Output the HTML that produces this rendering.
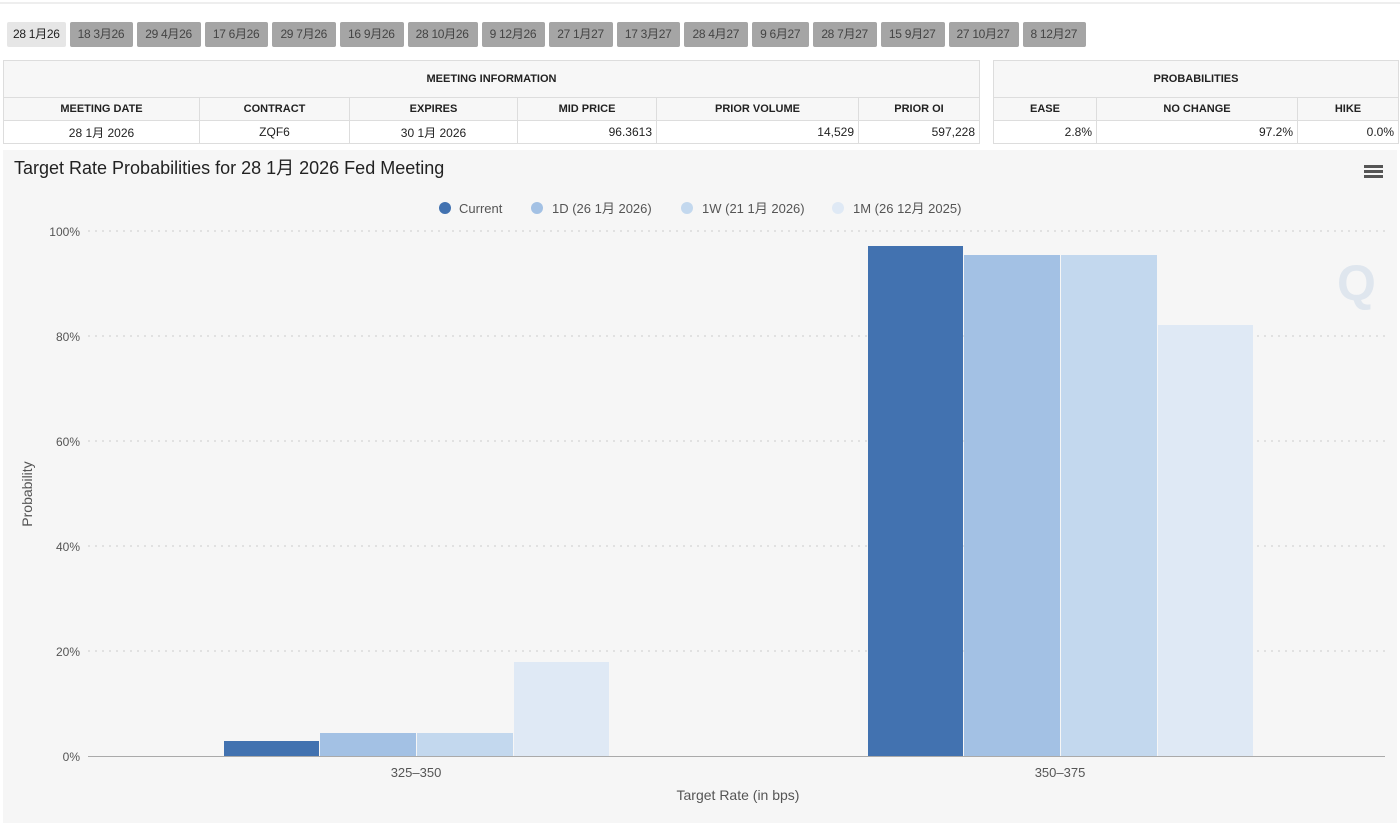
<!DOCTYPE html>
<html><head><meta charset="utf-8"><style>
body{margin:0;width:1400px;height:823px;background:#fff;font-family:"Liberation Sans","Noto Sans CJK SC",sans-serif;position:relative;overflow:hidden}
.topline{position:absolute;left:0;top:2px;width:1400px;height:2px;background:#eee}
.tabs{position:absolute;top:22px;left:7px;display:flex;gap:4px}
.tab{height:25px;line-height:25px;padding:0 9px 0 8px;background:#a5a5a5;color:#444;font-size:12px;border-radius:2px;letter-spacing:-0.3px}
.tab.a{background:#e6e6e6;color:#222;padding:0 6px}
table{position:absolute;border-collapse:collapse;font-size:12px;color:#222}
td{border:1px solid #ddd;height:22px;padding:0 4px}
.h td{font-weight:bold;font-size:11px;text-align:center;background:#f7f7f7}
.r{text-align:right}.c{text-align:center}
.chart{position:absolute;left:3px;top:150px;width:1394px;height:673px;background:#f6f6f6}
</style></head><body>
<div class="topline"></div>
<div class="tabs">
<div class="tab a">28 1月26</div><div class="tab">18 3月26</div><div class="tab">29 4月26</div><div class="tab">17 6月26</div><div class="tab">29 7月26</div><div class="tab">16 9月26</div><div class="tab">28 10月26</div><div class="tab">9 12月26</div><div class="tab">27 1月27</div><div class="tab">17 3月27</div><div class="tab">28 4月27</div><div class="tab">9 6月27</div><div class="tab">28 7月27</div><div class="tab">15 9月27</div><div class="tab">27 10月27</div><div class="tab">8 12月27</div>
</div>
<table style="left:3px;top:60px;width:977px">
<tr class="h"><td colspan="6" style="height:36px;background:#f7f7f7">MEETING INFORMATION</td></tr>
<tr class="h"><td style="width:187px">MEETING DATE</td><td style="width:141px">CONTRACT</td><td style="width:159px">EXPIRES</td><td style="width:130px">MID PRICE</td><td style="width:193px">PRIOR VOLUME</td><td>PRIOR OI</td></tr>
<tr style="background:#fff"><td class="c">28 1月 2026</td><td class="c">ZQF6</td><td class="c">30 1月 2026</td><td class="r">96.3613</td><td class="r">14,529</td><td class="r">597,228</td></tr>
</table>
<table style="left:993px;top:60px;width:406px">
<tr class="h"><td colspan="3" style="height:36px">PROBABILITIES</td></tr>
<tr class="h"><td style="width:94px">EASE</td><td style="width:192px">NO CHANGE</td><td>HIKE</td></tr>
<tr style="background:#fff"><td class="r">2.8%</td><td class="r">97.2%</td><td class="r">0.0%</td></tr>
</table>
<div class="chart"></div>
<svg style="position:absolute;left:0;top:0" width="1400" height="823" font-family="Liberation Sans, Noto Sans CJK SC, sans-serif">
<text x="14" y="174" font-size="18" fill="#222">Target Rate Probabilities for 28 1月 2026 Fed Meeting</text>
<g fill="#555"><rect x="1364" y="165" width="19" height="3"/><rect x="1364" y="170" width="19" height="3"/><rect x="1364" y="175" width="19" height="3"/></g>
<g font-size="13" fill="#555">
<circle cx="445" cy="208" r="6" fill="#4272b0"/><text x="459" y="213">Current</text>
<circle cx="537" cy="208" r="6" fill="#a3c1e4"/><text x="552" y="213">1D (26 1月 2026)</text>
<circle cx="687" cy="208" r="6" fill="#c3d8ee"/><text x="702" y="213">1W (21 1月 2026)</text>
<circle cx="838" cy="208" r="6" fill="#dfe9f5"/><text x="853" y="213">1M (26 12月 2025)</text>
</g>
<g stroke="#ccc" stroke-dasharray="2,5">
<line x1="88" x2="1385" y1="231" y2="231"/><line x1="88" x2="1385" y1="336" y2="336"/><line x1="88" x2="1385" y1="441" y2="441"/><line x1="88" x2="1385" y1="546" y2="546"/><line x1="88" x2="1385" y1="651" y2="651"/>
</g>
<line x1="88" x2="1385" y1="756.5" y2="756.5" stroke="#aaa"/>
<g font-size="12" fill="#555" text-anchor="end">
<text x="80" y="236">100%</text><text x="80" y="341">80%</text><text x="80" y="446">60%</text><text x="80" y="551">40%</text><text x="80" y="656">20%</text><text x="80" y="761">0%</text>
</g>
<text transform="translate(32,494) rotate(-90)" font-size="14" fill="#555" text-anchor="middle">Probability</text>
<g>
<rect x="224" y="741" width="95" height="15" fill="#4272b0"/>
<rect x="320" y="733" width="96" height="23" fill="#a3c1e4"/>
<rect x="417" y="733" width="96" height="23" fill="#c3d8ee"/>
<rect x="514" y="662" width="95" height="94" fill="#dfe9f5"/>
<rect x="868" y="246" width="95" height="510" fill="#4272b0"/>
<rect x="964" y="255" width="96" height="501" fill="#a3c1e4"/>
<rect x="1061" y="255" width="96" height="501" fill="#c3d8ee"/>
<rect x="1158" y="325" width="95" height="431" fill="#dfe9f5"/>
</g>
<g font-size="13" fill="#555" text-anchor="middle">
<text x="416" y="777">325–350</text><text x="1060" y="777">350–375</text>
<text x="738" y="800" font-size="14">Target Rate (in bps)</text>
</g>
<text x="1337" y="300" font-size="50" font-weight="bold" fill="#dfe6ee">Q</text>
</svg>
</body></html>
